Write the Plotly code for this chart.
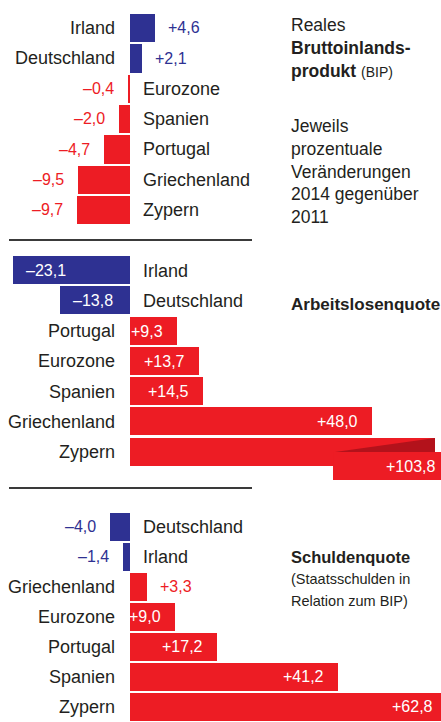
import plotly.graph_objects as go

W, H = 441, 722

# ---------------- data ----------------
bip_countries = ["Irland", "Deutschland", "Eurozone", "Spanien", "Portugal", "Griechenland", "Zypern"]
bip_values = [4.6, 2.1, -0.4, -2.0, -4.7, -9.5, -9.7]

alq_countries = ["Irland", "Deutschland", "Portugal", "Eurozone", "Spanien", "Griechenland", "Zypern"]
alq_values = [-23.1, -13.8, 9.3, 13.7, 14.5, 48.0, 103.8]

sq_countries = ["Deutschland", "Irland", "Griechenland", "Eurozone", "Portugal", "Spanien", "Zypern"]
sq_values = [-4.0, -1.4, 3.3, 9.0, 17.2, 41.2, 62.8]

highlight = ["Irland", "Deutschland"]

# ---------------- style ----------------
BLUE = "#2e3192"
RED = "#ed1c24"
DARKRED = "#b3121b"
TXT = "#231f20"
FONT = "Liberation Sans, Arial, sans-serif"
ZERO_PX = 130

panels = [
    dict(c=bip_countries, v=bip_values, ax="", scale=5.5, top=12.8, pitch=30.33, extra=0.0,
         inside=None, cap=None),
    dict(c=alq_countries, v=alq_values, ax="2", scale=5.05, top=255.4, pitch=30.25, extra=0.5,
         inside=5, cap=60.4),
    dict(c=sq_countries, v=sq_values, ax="3", scale=5.05, top=511.9, pitch=30.01, extra=0.0,
         inside=5, cap=None),
]


def fmt(v):
    return ("+" if v > 0 else "\u2013") + f"{abs(v):.1f}".replace(".", ",")


def py(px):
    return 1 - px / H


fig = go.Figure()
annotations = []
shapes = []

for p in panels:
    ax = p["ax"]
    xa = "x" + ax
    ya = "y" + ax
    cols = [BLUE if c in highlight else RED for c in p["c"]]
    disp = [min(v, p["cap"]) if p["cap"] is not None else v for v in p["v"]]
    fig.add_trace(go.Bar(
        x=disp, y=p["c"], orientation="h", marker=dict(color=cols, line=dict(width=0)),
        width=0.93, xaxis=xa, yaxis=ya, hoverinfo="skip", showlegend=False,
    ))
    n = len(p["c"])
    ymax = n - 0.5 + p["extra"]
    bottom = p["top"] + (n + p["extra"]) * p["pitch"]
    left = -ZERO_PX / p["scale"]
    right = (W - ZERO_PX) / p["scale"]
    fig.update_layout(**{
        ("xaxis" + ax): dict(domain=[0, 1], range=[left, right], visible=False, fixedrange=True,
                             anchor=ya),
        ("yaxis" + ax): dict(domain=[max(0, py(bottom)), py(p["top"])], range=[ymax, -0.5],
                             type="category", categoryorder="array", categoryarray=p["c"],
                             visible=False, anchor=xa),
    })

    for i, (c, v, col, dv) in enumerate(zip(p["c"], p["v"], cols, disp)):
        # country names
        annotations.append(dict(
            x=0, y=c, xref=xa, yref=ya, text=c, showarrow=False,
            xanchor="right" if v >= 0 else "left", xshift=-13 if v >= 0 else 11,
            font=dict(family=FONT, size=18, color=TXT),
        ))
        # values
        if p["cap"] is not None and v > p["cap"]:
            cap = p["cap"]
            fold = cap - 20.2
            shapes.append(dict(type="rect", xref=xa, yref=ya, x0=fold, x1=right + 5,
                               y0=i, y1=i + 0.926, fillcolor=RED, line=dict(width=0), layer="above"))
            shapes.append(dict(type="path", xref=xa, yref=ya,
                               path=f"M {fold + 0.4},{i} L {cap},{i - 0.465} L {cap},{i} Z",
                               fillcolor=DARKRED, line=dict(width=0), layer="above"))
            annotations.append(dict(
                x=cap, y=i + 0.463, xref=xa, yref=ya, text=fmt(v), showarrow=False,
                xanchor="right", xshift=2, font=dict(family=FONT, size=16, color="white"),
            ))
            continue
        inside = p["inside"] is not None and abs(v) > p["inside"]
        if inside:
            xanchor = "right" if v > 0 else "left"
            xshift = -12 if v > 0 else 11
            color = "white"
        else:
            xanchor = "left" if v > 0 else "right"
            xshift = 11 if v > 0 else -12
            color = col
        # keep the anchor inside the visible axis range (bar may run past the edge)
        xpos = max(min(dv, right), left)
        xshift += (dv - xpos) * p["scale"]
        annotations.append(dict(
            x=xpos, y=c, xref=xa, yref=ya, text=fmt(v), showarrow=False,
            xanchor=xanchor, xshift=xshift, font=dict(family=FONT, size=16, color=color),
        ))

# separator lines
for ypx in (240, 488):
    shapes.append(dict(type="line", xref="paper", yref="paper", x0=9 / W, x1=252 / W,
                       y0=py(ypx), y1=py(ypx), line=dict(color="#3a3a3a", width=2)))

# side texts
side = [
    (13, "top", "Reales<br><b>Bruttoinlands-</b><br><b>produkt</b> <span style='font-size:14px'>(BIP)</span>", 17.5),
    (114, "top", "Jeweils<br>prozentuale<br>Veränderungen<br>2014 gegenüber<br>2011", 17.5),
    (304, "middle", "<b>Arbeitslosenquote</b>", 17),
    (546, "top", "<b>Schuldenquote</b><br><span style='font-size:14.5px'>(Staatsschulden in</span><br>"
                 "<span style='font-size:14.5px'>Relation zum BIP)</span>", 16.5),
]
for ypx, anchor, text, size in side:
    annotations.append(dict(
        x=289 / W, y=py(ypx), xref="paper", yref="paper", text=text, showarrow=False,
        xanchor="left", yanchor=anchor, align="left",
        font=dict(family=FONT, size=size, color=TXT),
    ))

fig.update_layout(
    width=W, height=H, margin=dict(l=0, r=0, t=0, b=0),
    paper_bgcolor="white", plot_bgcolor="white",
    bargap=0, annotations=annotations, shapes=shapes, showlegend=False,
)

fig.write_html("out.html", config={"displayModeBar": False})
